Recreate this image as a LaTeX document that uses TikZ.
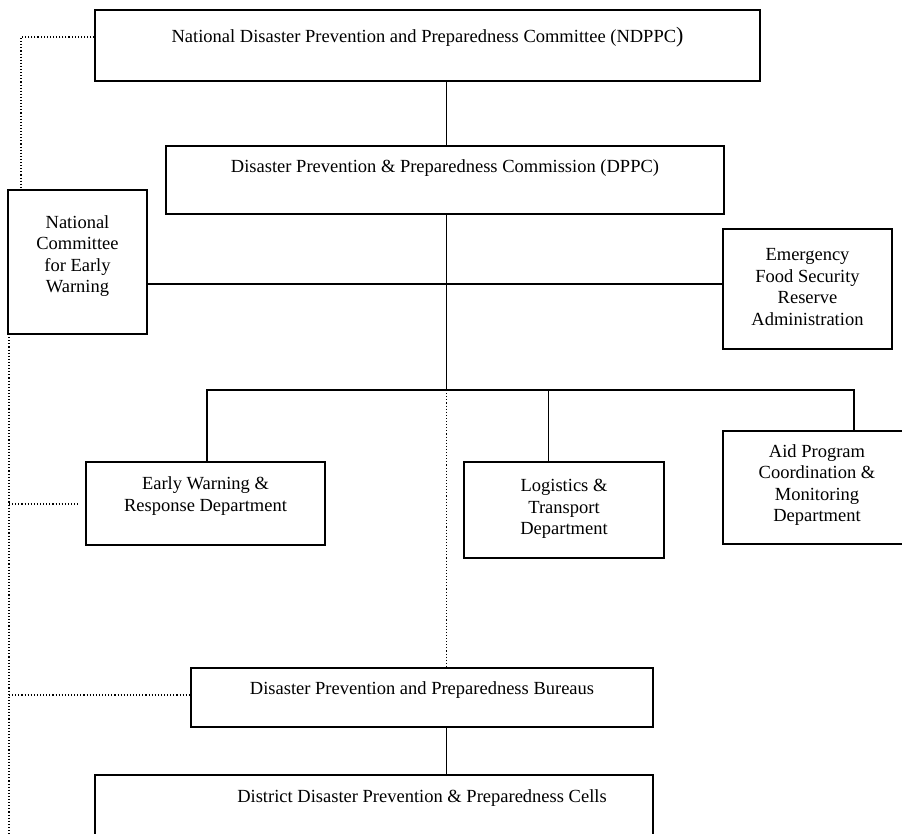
\documentclass[tikz,border=0pt]{standalone}
\usepackage{fontspec}
\setmainfont{Liberation Serif}
\begin{document}
\begin{tikzpicture}[x=1pt,y=-1pt,
  box/.style={draw=black, line width=1.3pt, rectangle, inner sep=0pt, fill=white},
  lbl/.style={align=center, inner sep=0pt, font=\fontsize{18.5}{21.6}\selectfont},
  solidline/.style={line width=1.3pt},
  dotline/.style={line width=1.1pt, dash pattern=on 1.1pt off 2pt}]
\useasboundingbox (0,0) rectangle (902,834);
\clip (0,0) rectangle (902,834);
% boxes
\node[box, minimum width=665, minimum height=71] (ndppc) at (427.5,45.5) {};
\node[box, minimum width=558, minimum height=68] (dppc) at (445,180) {};
\node[box, minimum width=139, minimum height=144] (ncew) at (77.5,262) {};
\node[box, minimum width=169, minimum height=120] (efsra) at (807.5,289) {};
\node[box, minimum width=239, minimum height=83] (ewr) at (205.5,503.5) {};
\node[box, minimum width=200, minimum height=96] (ltd) at (564,510) {};
\node[box, minimum width=188, minimum height=113] (apc) at (817,487.5) {};
\node[box, minimum width=462, minimum height=59] (dppb) at (422,697.5) {};
\node[box, minimum width=558, minimum height=90] (ddpc) at (374,820) {};
% labels
\node[lbl] (t1) at (427.5,37) {National Disaster Prevention and Preparedness Committee (NDPPC{\fontsize{22}{22}\selectfont)}};
\node[lbl] (t2) at (445,168) {Disaster Prevention \& Preparedness Commission (DPPC)};
\node[lbl] (t3) at (77.5,256) {National\\Committee\\for Early\\Warning};
\node[lbl] (t4) at (807.5,287) {Emergency\\Food Security\\Reserve\\Administration};
\node[lbl] (t5) at (205.5,496) {Early Warning \&\\Response Department};
\node[lbl] (t6) at (564,509) {Logistics \&\\Transport\\Department};
\node[lbl] (t7) at (817,485) {Aid Program\\Coordination \&\\Monitoring\\Department};
\node[lbl] (t8) at (422,690) {Disaster Prevention and Preparedness Bureaus};
\node[lbl] (t9) at (422,798) {District Disaster Prevention \& Preparedness Cells};
% junction coordinates
\coordinate (jc) at (446.5,390);
\coordinate (jl) at (207,390);
\coordinate (jr) at (854,390);
\coordinate (jm) at (548.5,390);
\coordinate (dtop) at (21,37);
\coordinate (dtopc) at (21,190);
\coordinate (dbl) at (9,334);
\coordinate (dbot) at (9,840);
\coordinate (d1) at (9,504);
\coordinate (d1e) at (78,504);
\coordinate (d2) at (9,695);
% solid connectors
\draw[solidline] (ndppc.south -| jc) -- (dppc.north -| jc);
\draw[solidline] (dppc.south -| jc) -- (jc);
\draw[solidline] (ncew.east |- 0,284) -- (efsra.west |- 0,284);
\draw[solidline] (jl |- ewr.north) -- (jl) -- (jr) -- (jr |- apc.north);
\draw[solidline] (jm) -- (jm |- ltd.north);
\draw[solidline] (dppb.south -| jc) -- (ddpc.north -| jc);
% dotted connectors
\draw[dotline] (ndppc.west |- dtop) -- (dtop) -- (dtopc);
\draw[dotline] (dbl) -- (dbot);
\draw[dotline] (d1) -- (d1e);
\draw[dotline] (d2) -- (dppb.west |- d2);
\draw[dotline] (jc) -- (jc |- dppb.north);
\end{tikzpicture}
\end{document}
